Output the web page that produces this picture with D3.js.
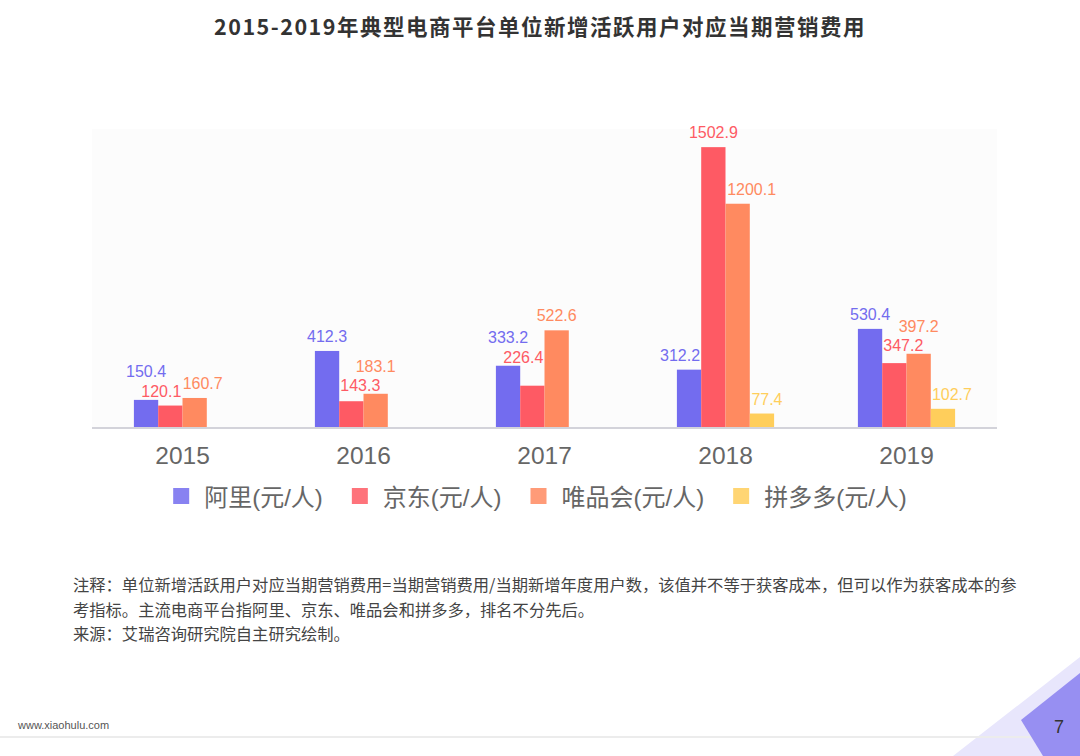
<!DOCTYPE html>
<html>
<head>
<meta charset="utf-8">
<script src="https://cdn.jsdelivr.net/npm/d3@7"></script>
<style>
  body { margin: 0; background: #fff; }
  svg { display: block; }
</style>
</head>
<body>
<script>
var years = ["2015", "2016", "2017", "2018", "2019"];
var seriesNames = ["阿里(元/人)", "京东(元/人)", "唯品会(元/人)", "拼多多(元/人)"];
var aliValues = [150.4, 412.3, 333.2, 312.2, 530.4];
var jdValues = [120.1, 143.3, 226.4, 1502.9, 347.2];
var vipValues = [160.7, 183.1, 522.6, 1200.1, 397.2];
var pddValues = [null, null, null, 77.4, 102.7];
var colors = ["#736CEF", "#FE5A64", "#FF8A60", "#FFCE5B"];

var titleText = "2015-2019年典型电商平台单位新增活跃用户对应当期营销费用";
var noteLines = [
  "注释：单位新增活跃用户对应当期营销费用=当期营销费用/当期新增年度用户数，该值并不等于获客成本，但可以作为获客成本的参",
  "考指标。主流电商平台指阿里、京东、唯品会和拼多多，排名不分先后。",
  "来源：艾瑞咨询研究院自主研究绘制。"
];

var width = 1080,
    height = 756;

var latin = "'Liberation Sans', 'Noto Sans CJK SC', sans-serif";

var svg = d3.select("body").append("svg")
    .attr("width", width)
    .attr("height", height);

// title
svg.append("text")
    .attr("x", width / 2)
    .attr("y", 35)
    .attr("text-anchor", "middle")
    .attr("font-family", "'Noto Sans CJK SC', sans-serif")
    .attr("font-weight", "bold")
    .attr("font-size", 21.5)
    .attr("letter-spacing", 1.5)
    .attr("fill", "#333")
    .text(titleText);

var plot = {left: 92, right: 997, top: 129, bottom: 428};

svg.append("rect")
    .attr("x", plot.left)
    .attr("y", plot.top)
    .attr("width", plot.right - plot.left)
    .attr("height", plot.bottom - plot.top)
    .attr("fill", "#fcfcfc");

var x0 = d3.scaleBand()
    .domain(years)
    .range([plot.left, plot.right]);

var x1 = d3.scaleBand()
    .domain(seriesNames)
    .range([0, 97.2]);

var y = d3.scaleLinear()
    .domain([0, 1600])
    .range([plot.bottom, plot.top]);

var allSeries = [aliValues, jdValues, vipValues, pddValues];
var bars = [];
years.forEach(function(yr, i) {
  allSeries.forEach(function(vals, s) {
    if (vals[i] == null) return;
    var bx = x0(yr) + x0.bandwidth() / 2 - 48.6 + x1(seriesNames[s]);
    bars.push({year: yr, yi: i, s: s, value: vals[i], x: bx, w: x1.bandwidth(), top: y(vals[i])});
  });
});

svg.append("g")
  .selectAll("rect")
  .data(bars)
  .enter()
  .append("rect")
    .attr("x", function(d) { return d.x; })
    .attr("y", function(d) { return d.top; })
    .attr("width", function(d) { return d.w; })
    .attr("height", function(d) { return y(0) - d.top; })
    .attr("fill", function(d) { return colors[d.s]; });

// axis line + year labels
svg.append("line")
    .attr("x1", plot.left).attr("x2", plot.right)
    .attr("y1", plot.bottom).attr("y2", plot.bottom)
    .attr("stroke", "#d3d3da")
    .attr("stroke-width", 2);

var xAxis = svg.append("g")
    .attr("transform", "translate(0," + plot.bottom + ")")
    .call(d3.axisBottom(x0).tickSize(0).tickPadding(19));
xAxis.select(".domain").remove();
xAxis.selectAll("text")
    .attr("font-family", latin)
    .attr("font-size", 24.5)
    .attr("fill", "#666");

// value labels, nudged so they do not sit on bars or each other
var labelG = svg.append("g");
var placed = [];
function hits(a, b, pad) {
  return a.x0 < b.x1 + pad && a.x1 > b.x0 - pad && a.y0 < b.y1 + pad && a.y1 > b.y0 - pad;
}
var shifts = [0];
for (var k = 1; k <= 16; k++) { shifts.push(-k, k); }

years.forEach(function(yr, i) {
  var group = bars.filter(function(d) { return d.yi === i; })
      .sort(function(a, b) { return a.value - b.value; });
  group.forEach(function(d) {
    var t = labelG.append("text")
        .attr("text-anchor", "middle")
        .attr("font-family", latin)
        .attr("font-size", 16)
        .attr("fill", colors[d.s])
        .text(d3.format(".1f")(d.value));
    var w = t.node().getComputedTextLength();
    var cx = d.x + d.w / 2;
    var base = d.top - 9;
    var found = null;
    for (var dy = 0; dy < 250 && !found; dy++) {
      for (var j = 0; j < shifts.length; j++) {
        var bx = cx + shifts[j], by = base - dy;
        var box = {x0: bx - w / 2, x1: bx + w / 2, y0: by - 14.5, y1: by + 3.5};
        var bad = bars.some(function(b) {
          return hits(box, {x0: b.x, x1: b.x + b.w, y0: b.top + 2, y1: plot.bottom}, 1);
        }) || placed.some(function(p) { return hits(box, p, 1); });
        if (!bad) { found = {x: bx, y: by, box: box}; break; }
      }
    }
    if (!found) found = {x: cx, y: base, box: null};
    if (found.box) placed.push(found.box);
    t.attr("x", found.x).attr("y", found.y);
  });
});

// legend
var legend = svg.append("g");
var lx = 0;
seriesNames.forEach(function(name, s) {
  var g = legend.append("g");
  g.append("rect")
      .attr("width", 16).attr("height", 16)
      .attr("y", -18)
      .attr("fill", colors[s])
      .attr("opacity", 0.85);
  var t = g.append("text")
      .attr("x", 31)
      .attr("y", 0)
      .attr("font-family", latin)
      .attr("font-size", 24)
      .attr("fill", "#666")
      .text(name);
  g.attr("transform", "translate(" + lx + ",0)");
  lx += 31 + t.node().getComputedTextLength() + 29;
});
var legendW = lx - 29;
legend.attr("transform", "translate(" + (width / 2 - legendW / 2) + ",506)");

// notes
svg.append("g")
  .selectAll("text")
  .data(noteLines)
  .enter()
  .append("text")
    .attr("x", 73)
    .attr("y", function(d, i) { return 591 + i * 24.5; })
    .attr("font-family", "'Noto Sans CJK SC', sans-serif")
    .attr("font-size", 16.3)
    .attr("fill", "#444")
    .text(function(d) { return d; });

// footer
svg.append("polygon")
    .attr("points", "953,756 1080,657 1080,756")
    .attr("fill", "#e8e6fc");
svg.append("line")
    .attr("x1", 0).attr("x2", width)
    .attr("y1", 737).attr("y2", 737)
    .attr("stroke", "#ececec")
    .attr("stroke-width", 2);
svg.append("polygon")
    .attr("points", "1021,720 1080,673 1080,756 1043,756")
    .attr("fill", "#978ff2");
svg.append("text")
    .attr("x", 18)
    .attr("y", 729)
    .attr("font-family", "'Liberation Sans', sans-serif")
    .attr("font-size", 11)
    .attr("fill", "#555")
    .text("www.xiaohulu.com");
svg.append("text")
    .attr("x", 1059)
    .attr("y", 733)
    .attr("text-anchor", "middle")
    .attr("font-family", latin)
    .attr("font-size", 18)
    .attr("fill", "#333")
    .text("7");
</script>
</body>
</html>
